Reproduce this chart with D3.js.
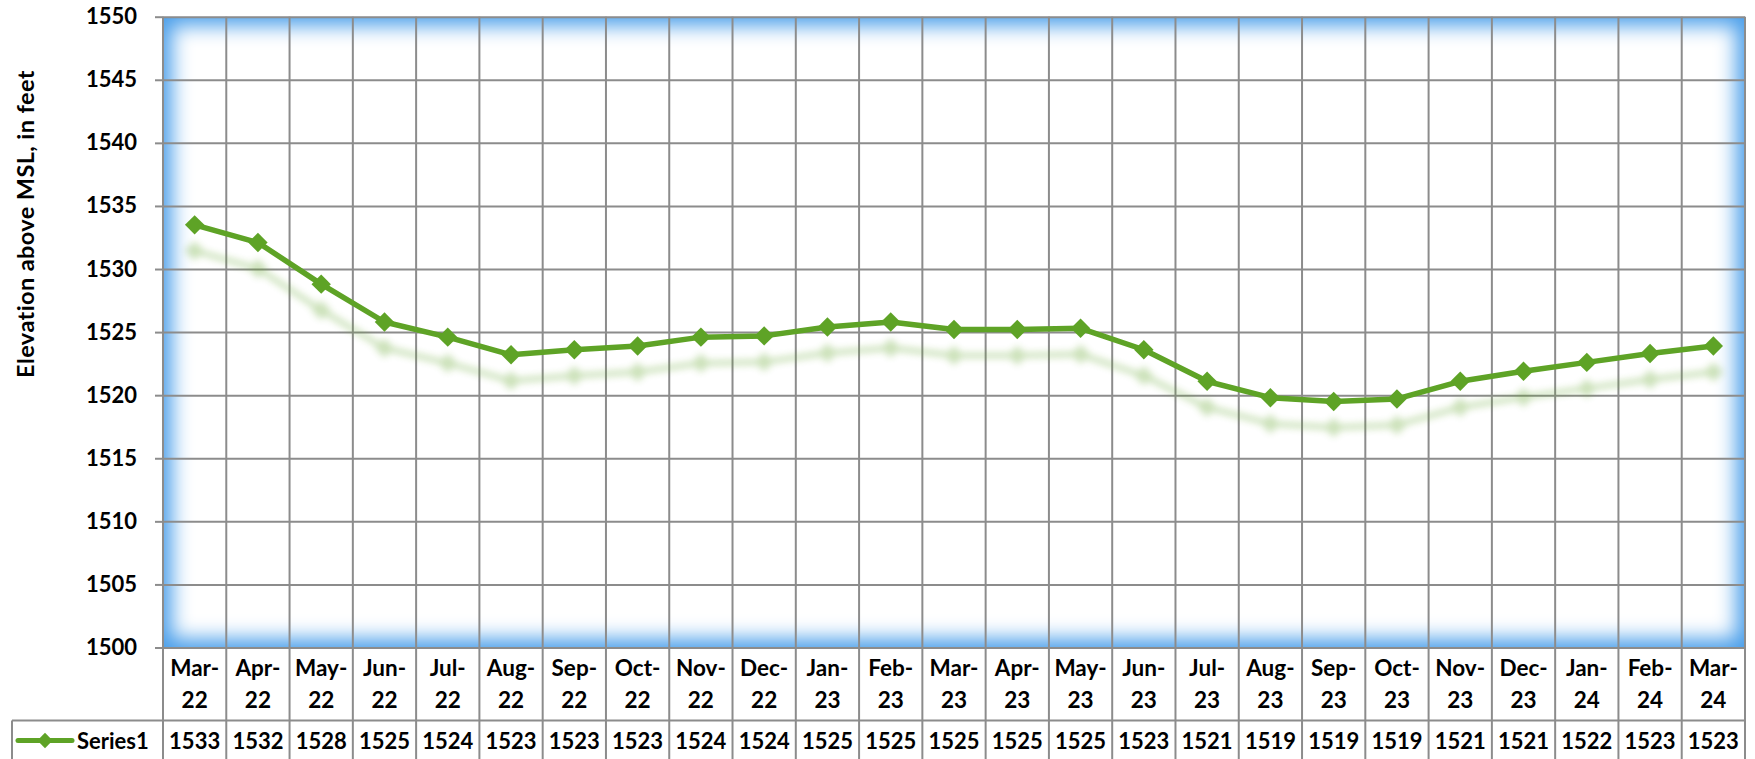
<!DOCTYPE html>
<html>
<head>
<meta charset="utf-8">
<script src="https://cdn.jsdelivr.net/npm/d3@7"></script>
<style>
    body { margin: 0; background: #fff; }
    svg { display: block; font-family: Lato, 'Open Sans', sans-serif; font-weight: bold; }
</style>
</head>
<body>
<div id="chart"></div>
<script>
// lake elevation, monthly
const categories = ['Mar-22', 'Apr-22', 'May-22', 'Jun-22', 'Jul-22', 'Aug-22', 'Sep-22', 'Oct-22', 'Nov-22', 'Dec-22',
    'Jan-23', 'Feb-23', 'Mar-23', 'Apr-23', 'May-23', 'Jun-23', 'Jul-23', 'Aug-23', 'Sep-23', 'Oct-23',
    'Nov-23', 'Dec-23', 'Jan-24', 'Feb-24', 'Mar-24']
const series1 = [1533.5, 1532.1, 1528.8, 1525.8, 1524.6, 1523.2, 1523.6, 1523.9, 1524.6, 1524.7,
    1525.4, 1525.8, 1525.2, 1525.2, 1525.3, 1523.6, 1521.1, 1519.8, 1519.5, 1519.7,
    1521.1, 1521.9, 1522.6, 1523.3, 1523.9]
const y_ticks = [1500, 1505, 1510, 1515, 1520, 1525, 1530, 1535, 1540, 1545, 1550]
const series_name = 'Series1'
const y_title = 'Elevation above MSL, in feet'

const W = 1755, H = 759
const plot = { left: 163, right: 1745, top: 16.7, bottom: 647.5 }
const table = { row1: 720.5, left: 12 }
const green = '#5ea326'
const grid_col = '#8c8c8c'

const svg = d3.select('#chart').append('svg').attr('width', W).attr('height', H)
const defs = svg.append('defs')

defs.append('clipPath').attr('id', 'plot-clip')
    .append('rect')
    .attr('x', plot.left).attr('y', plot.top)
    .attr('width', plot.right - plot.left).attr('height', plot.bottom - plot.top)

defs.append('filter').attr('id', 'glow-blur')
    .attr('x', '-10%').attr('y', '-10%').attr('width', '120%').attr('height', '120%')
    .append('feGaussianBlur').attr('stdDeviation', 10)

defs.append('filter').attr('id', 'shadow-blur')
    .attr('x', '-5%').attr('y', '-20%').attr('width', '110%').attr('height', '140%')
    .append('feGaussianBlur').attr('stdDeviation', 3.5)

const x = d3.scaleBand().domain(categories).range([plot.left, plot.right])
const y = d3.scaleLinear().domain([1500, 1550]).range([plot.bottom, plot.top])

// plot background: white with blue inner glow
const bg = svg.append('g').attr('clip-path', 'url(#plot-clip)')
bg.append('rect')
    .attr('x', plot.left).attr('y', plot.top)
    .attr('width', plot.right - plot.left).attr('height', plot.bottom - plot.top)
    .attr('fill', '#4b9fea')
const inset = 9
bg.append('rect')
    .attr('x', plot.left + inset).attr('y', plot.top + inset)
    .attr('width', plot.right - plot.left - 2 * inset).attr('height', plot.bottom - plot.top - 2 * inset)
    .attr('fill', '#fff')
    .attr('filter', 'url(#glow-blur)')

// horizontal gridlines + y labels
const yAxis = svg.append('g')
    .attr('transform', 'translate(' + plot.left + ',0)')
    .call(d3.axisLeft(y).tickValues(y_ticks).tickSize(8).tickPadding(18).tickFormat(d3.format('d')))
yAxis.select('.domain').remove()
yAxis.selectAll('.tick line').attr('stroke', grid_col).attr('stroke-width', 2)
yAxis.selectAll('.tick text').attr('font-size', 22).attr('fill', '#000').attr('font-family', 'Lato').attr('font-weight', 'bold')
yAxis.selectAll('.tick').append('line')
    .attr('x1', 0).attr('x2', plot.right - plot.left)
    .attr('stroke', grid_col).attr('stroke-width', 2)

// vertical gridlines, run through the data table
const bounds = categories.map(c => x(c)).concat([plot.right])
svg.append('g').selectAll('line')
    .data(bounds)
    .enter()
    .append('line')
    .attr('x1', d => d).attr('x2', d => d)
    .attr('y1', plot.top).attr('y2', H)
    .attr('stroke', grid_col).attr('stroke-width', 2)

// table row divider and left edge of legend cell
svg.append('line')
    .attr('x1', table.left).attr('x2', plot.right)
    .attr('y1', table.row1).attr('y2', table.row1)
    .attr('stroke', grid_col).attr('stroke-width', 2)
svg.append('line')
    .attr('x1', table.left).attr('x2', table.left)
    .attr('y1', table.row1).attr('y2', H)
    .attr('stroke', grid_col).attr('stroke-width', 2)

// category labels (two lines)
const catG = svg.append('g')
categories.forEach(c => {
    const parts = c.split('-')
    const cx = x(c) + x.bandwidth() / 2
    const t = catG.append('text')
        .attr('x', cx).attr('text-anchor', 'middle')
        .attr('font-size', 22.5).attr('fill', '#000')
    t.append('tspan').attr('x', cx).attr('y', 676).text(parts[0] + '-')
    t.append('tspan').attr('x', cx).attr('y', 708).text(parts[1])
})

// table values
svg.append('g').selectAll('text')
    .data(series1)
    .enter()
    .append('text')
    .attr('x', (d, i) => x(categories[i]) + x.bandwidth() / 2)
    .attr('y', 749)
    .attr('text-anchor', 'middle')
    .attr('font-size', 22)
    .attr('fill', '#000')
    .text(d => Math.floor(d))

// legend key
const diamond = d3.symbol().type(d3.symbolDiamond2).size(150)
const leg = svg.append('g')
leg.append('line')
    .attr('x1', 18).attr('x2', 72).attr('y1', 740.5).attr('y2', 740.5)
    .attr('stroke', green).attr('stroke-width', 5).attr('stroke-linecap', 'round')
leg.append('path')
    .attr('d', diamond)
    .attr('transform', 'translate(45,740.5)')
    .attr('fill', green)
leg.append('text')
    .attr('x', 77).attr('y', 749)
    .attr('font-size', 22).attr('fill', '#000')
    .text(series_name)

// y title
svg.append('text')
    .attr('transform', 'translate(34,224) rotate(-90)')
    .attr('text-anchor', 'middle')
    .attr('font-size', 23.5)
    .attr('letter-spacing', 0.4)
    .attr('fill', '#000')
    .text(y_title)

// series line with soft shadow underneath
const line = d3.line()
    .x((d, i) => x(categories[i]) + x.bandwidth() / 2)
    .y(d => y(d))

const draw_series = (g) => {
    g.append('path')
        .datum(series1)
        .attr('d', line)
        .attr('fill', 'none')
        .attr('stroke', green)
        .attr('stroke-width', 5.5)
        .attr('stroke-linejoin', 'round')
    g.selectAll('path.mark')
        .data(series1)
        .enter()
        .append('path')
        .attr('class', 'mark')
        .attr('d', d3.symbol().type(d3.symbolDiamond2).size(240))
        .attr('transform', (d, i) => 'translate(' + (x(categories[i]) + x.bandwidth() / 2) + ',' + y(d) + ')')
        .attr('fill', green)
}

const shadow = svg.append('g')
    .attr('clip-path', 'url(#plot-clip)')
    .append('g')
    .attr('transform', 'translate(0,26)')
    .attr('opacity', 0.32)
    .attr('filter', 'url(#shadow-blur)')
draw_series(shadow)

draw_series(svg.append('g'))
</script>
</body>
</html>
